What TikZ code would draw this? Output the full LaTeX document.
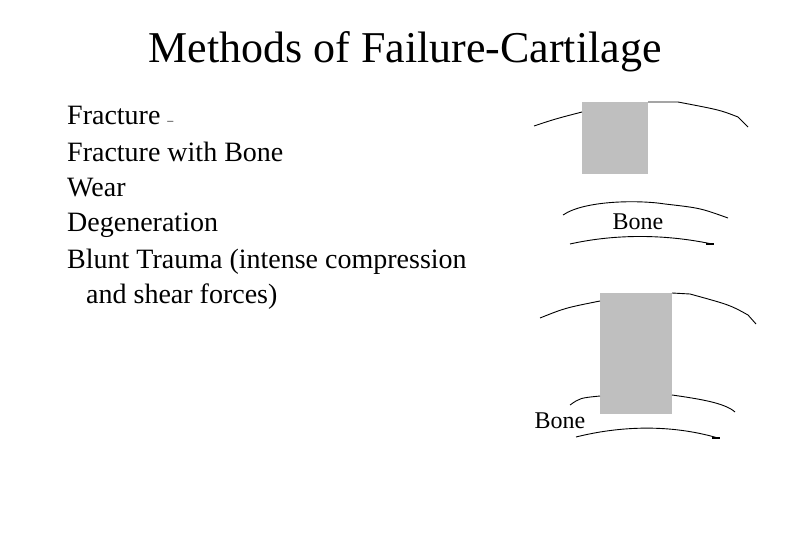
\documentclass[tikz,border=0pt]{standalone}
\usepackage{fontspec}
\setmainfont{Liberation Serif}
\begin{document}
\begin{tikzpicture}[x=1pt,y=-1pt,
  curve/.style={draw=black,line width=0.9pt},
  blk/.style={fill=black!25,draw=none},
  lst/.style={anchor=west,font=\fontsize{28}{30}\selectfont,inner sep=0}]
\useasboundingbox (0,0) rectangle (810,540);
\node (title) at (405,52) {\fontsize{44}{48}\selectfont Methods of Failure-Cartilage};
\node[lst] (l1) at (67,115) {Fracture {\fontsize{12}{12}\selectfont–}};
\node[lst] (l2) at (67,152) {Fracture with Bone};
\node[lst] (l3) at (67,188) {Wear};
\node[lst] (l4) at (67,225) {Degeneration};
\node[lst] (l5) at (67,262) {Blunt Trauma (intense compression};
\node[lst] (l6) at (86,297) {and shear forces)};
% top block
\fill[blk] (582,102) rectangle (648,174);
\draw[curve] (534,126) .. controls (555,119) .. (582,112);
\draw[curve] (648,102) -- (678,102) .. controls (720,110) .. (738,117) -- (748,127);
\draw[curve] (563,215) .. controls (585,200) and (640,200) .. (665,204) .. controls (700,208) .. (728,218);
\node (b1) at (638,222) {\fontsize{24}{26}\selectfont Bone};
\draw[curve] (570,244) .. controls (610,235) and (660,233) .. (712,244);
\draw[line width=1.5pt] (706,244) -- (714,244);
% bottom block
\fill[blk] (600,293) rectangle (672,414);
\draw[curve] (540,318) .. controls (565,308) .. (600,301);
\draw[curve] (672,293) -- (690,294) .. controls (730,305) .. (748,315) -- (756,324);
\draw[curve] (570,405) .. controls (580,398) .. (600,396);
\draw[curve] (672,395) .. controls (700,399) and (725,403) .. (735,412);
\node (b2) at (560,421) {\fontsize{24}{26}\selectfont Bone};
\draw[curve] (576,437) .. controls (620,426) and (670,424) .. (718,438);
\draw[line width=1.5pt] (712,438) -- (720,438);
\end{tikzpicture}
\end{document}
